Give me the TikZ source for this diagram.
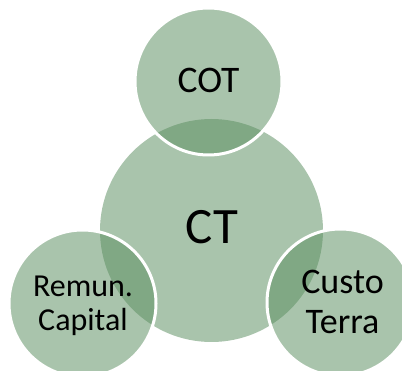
\documentclass[tikz,border=0pt]{standalone}
\usepackage{fontspec}
\setmainfont{Carlito}
\definecolor{vgreen}{RGB}{91,142,96}
\begin{document}
\begin{tikzpicture}[x=1pt,y=-1pt,
  bigdisc/.style={circle,inner sep=0pt,minimum size=223pt,fill=vgreen,fill opacity=0.52,draw=none},
  satdisc/.style={circle,inner sep=0pt,minimum size=147pt,fill=vgreen,fill opacity=0.52,draw=white,draw opacity=1,line width=3pt},
  lbl/.style={inner sep=0pt,align=center,text=black}]
\useasboundingbox (0,0) rectangle (402,371);
\node[bigdisc] (ct) at (211.5,230.5) {};
\node[satdisc] (cot) at (208.5,81.5) {};
\node[satdisc] (rem) at (82.5,303.5) {};
\node[satdisc] (cus) at (340.5,302.5) {};
\node[lbl,font=\fontsize{51}{55}\selectfont] (ctl) at (212,227) {CT};
\node[lbl,font=\fontsize{37.5}{40}\selectfont] (cotl) at (208.5,80) {COT};
\node[lbl,font=\fontsize{32}{34}\selectfont] (reml) at (83,306) {Remun.\\Capital};
\node[lbl,font=\fontsize{36}{39.5}\selectfont] (cusl) at (342.5,302) {Custo\\Terra};
\end{tikzpicture}
\end{document}
